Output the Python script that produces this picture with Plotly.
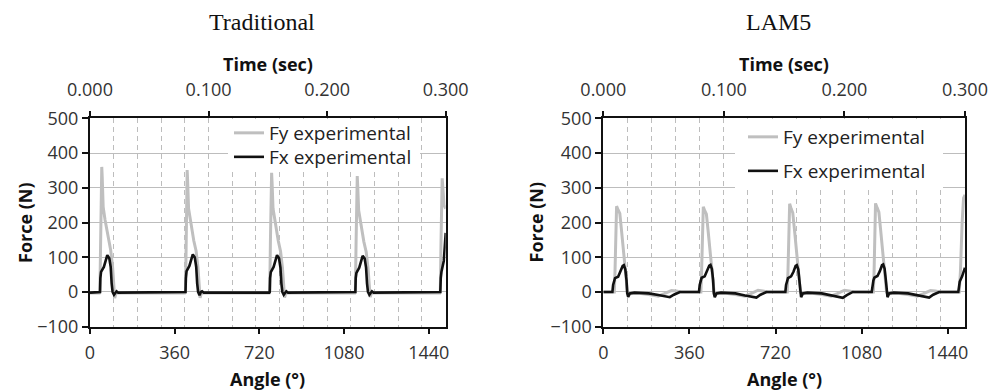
import plotly.graph_objects as go

# ---------------- data ----------------
trad_fy_angle = [0, 40, 42, 45, 50, 52, 56, 64, 78, 88, 96, 102, 105, 110, 120,
                 403, 406, 409, 413, 415, 419, 427, 441, 451, 459, 465, 468, 473, 483,
                 762, 764, 767, 772, 774, 778, 786, 800, 810, 818, 824, 827, 832, 842,
                 1126, 1128, 1131, 1136, 1138, 1142, 1150, 1164, 1174, 1182, 1188, 1191, 1196, 1206,
                 1487, 1489, 1492, 1497, 1500, 1505, 1512]
trad_fy = [-3, -3, 0, 150, 360, 330, 245, 207, 150, 120, 72, 15, -18, -4, -3,
           -3, 0, 150, 351, 320, 240, 205, 148, 118, 70, 12, -17, -4, -3,
           -3, 0, 150, 343, 315, 240, 203, 148, 117, 70, 14, -16, -4, -3,
           -3, 0, 140, 334, 305, 235, 200, 145, 115, 68, 12, -15, -4, -3,
           -3, 0, 140, 327, 300, 250, 240]

trad_fx_angle = [0, 41, 42.5, 44, 47, 59, 68, 73.5, 82, 88, 92, 96, 102, 108, 113, 120,
                 404, 406, 407.5, 410.5, 422.5, 431.5, 437, 445.5, 451.5, 455.5, 459.5, 465.5, 471.5, 476.5, 484,
                 762, 764, 765.5, 768.5, 780.5, 789.5, 795, 803.5, 809.5, 813.5, 817.5, 823.5, 829.5, 834.5, 842,
                 1126, 1128, 1129.5, 1132.5, 1144.5, 1153.5, 1159, 1167.5, 1173.5, 1177.5, 1181.5, 1187.5, 1193.5, 1198.5, 1206,
                 1487, 1489, 1491, 1494, 1504, 1512]
trad_fx = [-2, -2, 0, 40, 58, 72, 97, 106, 97, 72, 25, 0, -8, 0, 2, -2,
           -2, 0, 40, 60, 75, 98, 108, 99, 72, 25, 0, -9, 0, 2, -2,
           -2, 0, 40, 57, 72, 96, 106, 97, 70, 25, 0, -8, 0, 2, -2,
           -2, 0, 40, 55, 70, 95, 104, 96, 70, 25, 0, -8, 0, 2, -2,
           -2, 0, 40, 58, 90, 170]

lam_fy_angle = [0, 46, 49, 52, 55.5, 62, 69, 76, 83, 90, 97, 101, 105, 150, 190, 230, 255, 285, 305, 325, 406,
                408, 411, 414, 418, 424, 431, 438, 445, 452, 459, 463, 467, 512, 552, 592, 617, 647, 667, 687, 768,
                769, 772, 775, 779, 785, 792, 799, 806, 813, 820, 824, 828, 873, 913, 953, 978, 1008, 1028, 1048, 1128,
                1129, 1132, 1135, 1138, 1145, 1152, 1159, 1166, 1173, 1180, 1184, 1188, 1233, 1273, 1313, 1338, 1368, 1388, 1408, 1488,
                1493, 1500, 1506, 1512]
lam_fy = [0, 0, 60, 200, 247, 236, 226, 178, 130, 82, 15, 0, -5, -4, -7, -12, -5, 4, 3, 0, 0,
          0, 60, 200, 245, 234, 224, 177, 128, 80, 14, 0, -5, -4, -7, -12, -5, 5, 3, 0, 0,
          0, 60, 205, 254, 240, 228, 180, 131, 82, 15, 0, -5, -4, -7, -12, -5, 5, 3, 0, 0,
          0, 60, 205, 255, 242, 230, 181, 132, 83, 15, 0, -5, -4, -7, -12, -5, 4, 3, 0, 0,
          60, 200, 270, 280]

lam_fx_angle = [0, 38, 41, 45, 49, 62, 72, 81, 86, 92, 97, 100, 104, 111, 130, 190, 230, 260, 278, 295, 320, 398,
                400, 403, 407, 411, 424, 434, 443, 448, 454, 459, 462, 466, 473, 492, 552, 592, 622, 640, 657, 682, 759,
                761, 764, 768, 772, 785, 795, 804, 809, 815, 820, 823, 827, 834, 853, 913, 953, 983, 1001, 1018, 1043, 1122,
                1122.5, 1125, 1129, 1133, 1146, 1156, 1165, 1170, 1176, 1181, 1184, 1188, 1195, 1214, 1274, 1314, 1344, 1362, 1379, 1404, 1484,
                1490, 1500, 1506, 1512]
lam_fx = [0, 0, 20, 32, 40, 44, 58, 75, 77, 65, 34, -4, -14, -4, -2, -4, -9, -14, -15, -8, 0, 0,
          0, 20, 33, 41, 45, 59, 76, 78, 66, 35, -4, -15, -4, -2, -4, -10, -14, -16, -8, 0, 0,
          0, 20, 33, 40, 45, 58, 75, 77, 65, 34, -4, -15, -4, -2, -4, -10, -15, -17, -9, 0, 0,
          0, 20, 33, 41, 46, 60, 77, 79, 67, 35, -4, -15, -4, -2, -4, -10, -14, -16, -8, 0, 0,
          30, 45, 60, 70]

angle_ticks = [0, 360, 720, 1080, 1440]
time_ticks = [0.0, 0.1, 0.2, 0.3]
time_labels = ["0.000", "0.100", "0.200", "0.300"]
force_ticks = [-100, 0, 100, 200, 300, 400, 500]

titles = ["Traditional", "LAM5"]
series_names = ["Fy experimental", "Fx experimental"]

# ---------------- styling ----------------
W, H = 1003, 390
FONT = "Open Sans"
GRAY = "#bdbdbd"
FY_COLOR = "#bfbfbf"
FX_COLOR = "#111111"
TICKC = "#333333"

def px_x(p):
    return p / W

def px_y(p):
    return 1 - p / H

fig = go.Figure()

panels = [
    dict(fy_a=trad_fy_angle, fy=trad_fy, fx_a=trad_fx_angle, fx=trad_fx,
         x0=90, x1=445.7, xa="x", ya="y", xtop="x2", legs=("legend", "legend3"),
         box=(228, 119, 420, 171)),
    dict(fy_a=lam_fy_angle, fy=lam_fy, fx_a=lam_fx_angle, fx=lam_fx,
         x0=603.3, x1=965, xa="x3", ya="y2", xtop="x4", legs=("legend2", "legend4"),
         box=(735, 119, 943, 190)),
]

for p in panels:
    fig.add_trace(go.Scatter(x=p["fy_a"], y=p["fy"], mode="lines", name=series_names[0],
                             line=dict(color=FY_COLOR, width=3), xaxis=p["xa"], yaxis=p["ya"],
                             legend=p["legs"][0]))
    fig.add_trace(go.Scatter(x=p["fx_a"], y=p["fx"], mode="lines", name=series_names[1],
                             line=dict(color=FX_COLOR, width=2.6), xaxis=p["xa"], yaxis=p["ya"],
                             legend=p["legs"][1]))
    # invisible trace so the top (time) axis is drawn
    fig.add_trace(go.Scatter(x=[0, 0.3], y=[None, None], mode="lines", showlegend=False,
                             hoverinfo="skip", xaxis=p["xtop"], yaxis=p["ya"]))

y_top, y_bot = 118.3, 326.7
ydom = [px_y(y_bot), px_y(y_top)]

common_line = dict(showline=True, linecolor="#111111", linewidth=2, automargin=False)
tickfont = dict(family=FONT, size=18, color=TICKC)

layout = dict(
    width=W, height=H, margin=dict(l=0, r=0, t=0, b=0, autoexpand=False),
    paper_bgcolor="white", plot_bgcolor="white", showlegend=True,
)

for i, p in enumerate(panels):
    xd = [px_x(p["x0"]), px_x(p["x1"])]
    xname = "xaxis" if i == 0 else "xaxis3"
    xtopname = "xaxis2" if i == 0 else "xaxis4"
    yname = "yaxis" if i == 0 else "yaxis2"
    yref = "y" if i == 0 else "y2"
    xref = "x" if i == 0 else "x3"
    layout[xname] = dict(domain=xd, anchor=yref, range=[0, 1512], tickvals=angle_ticks,
                         ticks="outside", ticklen=5, tickwidth=2, tickcolor="#111111",
                         showgrid=False, zeroline=False, mirror=True, tickfont=tickfont,
                         ticklabelstandoff=4, **common_line)
    layout[xtopname] = dict(overlaying=xref, side="top", anchor=yref, range=[0, 0.3],
                            tickvals=time_ticks, ticktext=time_labels,
                            ticks="outside", ticklen=5, tickwidth=2, tickcolor="#111111",
                            showgrid=True, gridcolor=GRAY, gridwidth=1, griddash="5px,4px",
                            minor=dict(dtick=0.02, tick0=0, showgrid=True, gridcolor=GRAY,
                                       gridwidth=1, griddash="5px,4px", ticks=""),
                            zeroline=False, tickfont=tickfont, ticklabelstandoff=8,
                            **common_line)
    layout[yname] = dict(domain=ydom, anchor=xref, range=[-100, 500], tickvals=force_ticks,
                         ticks="outside", ticklen=6, tickwidth=2, tickcolor="#111111",
                         showgrid=True, gridcolor=GRAY, gridwidth=1.2, zeroline=False,
                         mirror=True, tickfont=tickfont, **common_line)

legfont = dict(family=FONT, size=19, color="#222222")
# (legend name, left px, top px)
leg_pos = [("legend", 229, 114), ("legend3", 229, 138),
           ("legend2", 743, 118), ("legend4", 743, 152)]
for name, lx, ly in leg_pos:
    layout[name] = dict(x=px_x(lx), y=px_y(ly), xanchor="left", yanchor="top",
                        bgcolor="rgba(0,0,0,0)", borderwidth=0, font=legfont, itemwidth=30)

# white legend backgrounds hiding the gridlines behind the legend entries
layout["shapes"] = [
    dict(type="rect", xref="paper", yref="paper", layer="above",
         x0=px_x(p["box"][0]), x1=px_x(p["box"][2]),
         y0=px_y(p["box"][3]), y1=px_y(p["box"][1]),
         fillcolor="white", line=dict(width=0))
    for p in panels
]

fig.update_layout(**layout)

ann = []
centers = [267.9, 784.2]
title_x = [262, 778]
for i, c in enumerate(centers):
    ann.append(dict(text=titles[i], x=px_x(title_x[i]), y=px_y(22), xref="paper", yref="paper",
                    showarrow=False, xanchor="center", yanchor="middle",
                    font=dict(family="Liberation Serif", size=24, color="#111111")))
    ann.append(dict(text="<b>Time (sec)</b>", x=px_x(c), y=px_y(64), xref="paper", yref="paper",
                    showarrow=False, xanchor="center", yanchor="middle",
                    font=dict(family=FONT, size=18, color="#111111")))
    ann.append(dict(text="<b>Angle (°)</b>", x=px_x(c), y=px_y(379), xref="paper", yref="paper",
                    showarrow=False, xanchor="center", yanchor="middle",
                    font=dict(family=FONT, size=18, color="#111111")))
fy_x = [24.5, 535]
for xx in fy_x:
    ann.append(dict(text="<b>Force (N)</b>", x=px_x(xx), y=px_y(222.5), xref="paper", yref="paper",
                    showarrow=False, xanchor="center", yanchor="middle", textangle=-90,
                    font=dict(family=FONT, size=18, color="#111111")))
fig.update_layout(annotations=ann)

fig.write_html("out.html", config={"displayModeBar": False},
               post_script="document.body.style.margin='0px';document.body.style.overflow='hidden';")
